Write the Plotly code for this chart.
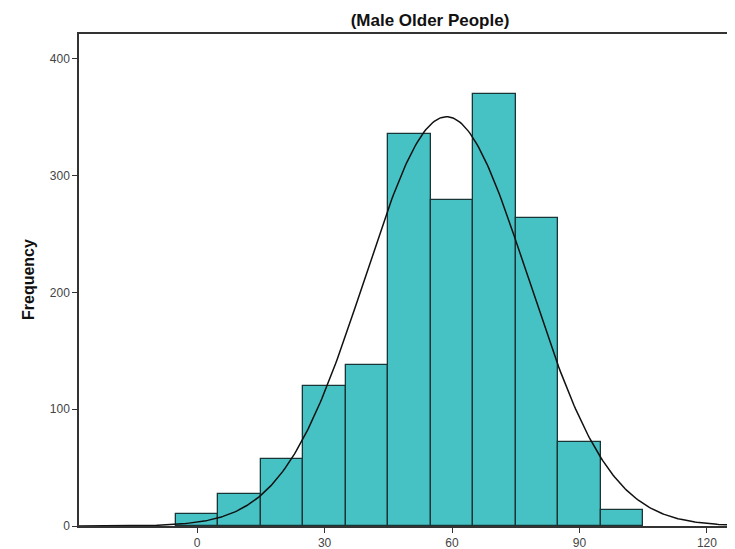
import numpy as np
import plotly.graph_objects as go

# Histogram data (bin centers and frequencies), bin width 10
bin_centers = [0, 10, 20, 30, 40, 50, 60, 70, 80, 90, 100]
frequencies = [10, 27, 57, 120, 138, 336, 279, 370, 264, 72, 14]
bin_width = 10

# Fitted normal curve parameters
fit_mean = 58.7
fit_sd = 19.2

x_ticks = [0, 30, 60, 90, 120]
y_ticks = [0, 100, 200, 300, 400]
title_text = "(Male Older People)"
y_title = "Frequency"

n_total = sum(frequencies)
xs = np.linspace(-30, 130, 400)
ys = n_total * bin_width / (fit_sd * np.sqrt(2 * np.pi)) * np.exp(-0.5 * ((xs - fit_mean) / fit_sd) ** 2)

# page has an 8px body margin; figure is sized to fill the remaining window
W, H = 727, 541

fig = go.Figure()
fig.add_trace(go.Bar(
    x=bin_centers, y=frequencies, width=bin_width,
    marker=dict(color="#46C1C4", line=dict(color="#1A3536", width=1.3)),
    hoverinfo="x+y",
))
fig.add_trace(go.Scatter(
    x=xs, y=ys, mode="lines",
    line=dict(color="#111111", width=1.5),
    hoverinfo="skip",
))

font_family = "Liberation Sans, Arial, sans-serif"
fig.update_layout(
    width=W, height=H,
    margin=dict(l=71, r=0, t=26, b=23, autoexpand=False),
    paper_bgcolor="white", plot_bgcolor="white",
    showlegend=False,
    bargap=0,
    font=dict(family=font_family, size=12, color="#333333"),
    title=dict(text="<b>" + title_text + "</b>", x=422 / W, xanchor="center",
               y=1 - 12 / H, yanchor="middle",
               font=dict(family=font_family, size=17, color="#111111")),
    annotations=[dict(
        text="<b>" + y_title + "</b>", xref="paper", yref="paper",
        x=0, y=0.5, xanchor="center", yanchor="middle", xshift=-51,
        textangle=-90, showarrow=False,
        font=dict(family=font_family, size=16, color="#111111"),
    )],
)
fig.update_xaxes(
    range=[-27.8, 126.6], tickvals=x_ticks, ticktext=[str(v) for v in x_ticks],
    showgrid=False, zeroline=False, automargin=False,
    showline=True, linecolor="#333333", linewidth=1.5, mirror=True,
    ticks="outside", ticklen=5, tickcolor="#333333",
    tickfont=dict(size=12, color="#444444"),
)
fig.update_yaxes(
    range=[0, 421.4], tickvals=y_ticks, ticktext=[str(v) for v in y_ticks],
    showgrid=False, zeroline=False, automargin=False,
    showline=True, linecolor="#333333", linewidth=1.5,
    ticks="outside", ticklen=5, tickcolor="#333333",
    tickfont=dict(size=12, color="#444444"),
)

fig.write_html("out.html")
